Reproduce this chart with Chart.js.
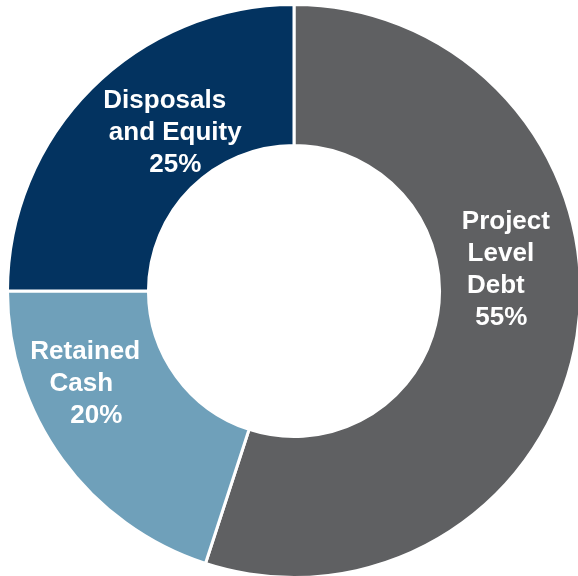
<!DOCTYPE html>
<html>
<head>
<meta charset="utf-8">
<title>Funding sources</title>
<script src="https://cdn.jsdelivr.net/npm/chart.js@4/dist/chart.umd.min.js"></script>
<style>
  html, body { margin: 0; padding: 0; background: #ffffff; overflow: hidden; width: 578px; height: 576px; }
  #wrap { position: absolute; left: 6px; top: 3px; width: 576px; height: 576px; }
</style>
</head>
<body>
<div id="wrap"><canvas id="chart"></canvas></div>
<script>
// Funding mix (share of total, %)
const categories = ['Project Level Debt', 'Retained Cash', 'Disposals and Equity'];
const labelLines = [['Project', 'Level', 'Debt'], ['Retained', 'Cash'], ['Disposals', 'and Equity']];
const shares = [55, 20, 25];
const colors = ['#5f6062', '#6fa0ba', '#033360'];

// Where each text block sits relative to its slice's centre point,
// plus a small horizontal nudge for every line.
const labelLayout = [
  { dx: -7,  dy: -55, nudge: [5.5, 0.5, -4.5, 1] },
  { dx: -32, dy: -34, nudge: [-2, -6, 9] },
  { dx: 30,  dy: -5,  nudge: [-6.5, 4, 4] }
];

const sliceLabels = {
  id: 'sliceLabels',
  afterDatasetsDraw(chart) {
    const ctx = chart.ctx;
    const meta = chart.getDatasetMeta(0);
    const values = chart.data.datasets[0].data;
    const lineH = 32;
    ctx.save();
    ctx.fillStyle = '#ffffff';
    ctx.font = 'bold 26px "Liberation Sans", Arial, sans-serif';
    ctx.textAlign = 'center';
    ctx.textBaseline = 'middle';
    meta.data.forEach((arc, i) => {
      const c = arc.getCenterPoint();
      const lines = labelLines[i].concat([values[i] + '%']);
      const lay = labelLayout[i];
      const cx = c.x + lay.dx;
      const cy = c.y + lay.dy;
      const top = cy - (lines.length - 1) * lineH / 2;
      lines.forEach((t, k) => {
        ctx.fillText(t, cx + lay.nudge[k], top + k * lineH);
      });
    });
    ctx.restore();
  }
};

new Chart(document.getElementById('chart'), {
  type: 'doughnut',
  data: {
    labels: categories,
    datasets: [{
      data: shares,
      backgroundColor: colors,
      borderColor: '#ffffff',
      borderWidth: 3,
      hoverOffset: 0
    }]
  },
  options: {
    responsive: true,
    maintainAspectRatio: false,
    animation: false,
    events: [],
    cutout: '50.8%',
    layout: { padding: 0 },
    plugins: {
      legend: { display: false },
      tooltip: { enabled: false }
    }
  },
  plugins: [sliceLabels]
});
</script>
</body>
</html>
